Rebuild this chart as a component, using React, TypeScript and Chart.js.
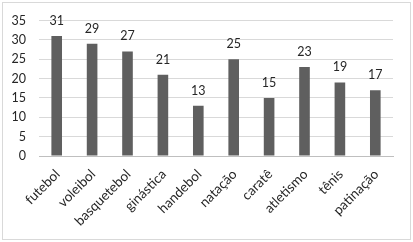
import React, { useEffect, useRef } from "react";
import { Chart, registerables } from "chart.js";

Chart.register(...registerables);

const categories = ["futebol", "voleibol", "basquetebol", "ginástica", "handebol", "natação", "caratê", "atletismo", "tênis", "patinação"];
const values = [31, 29, 27, 21, 13, 25, 15, 23, 19, 17];
const yTicks = [0, 5, 10, 15, 20, 25, 30, 35];

const FONT = "Lato, 'Open Sans', sans-serif";

const borderPlugin = {
  id: "outerBorder",
  beforeDraw(chart: any) {
    const ctx = chart.ctx;
    ctx.save();
    ctx.fillStyle = "#ffffff";
    ctx.fillRect(0, 0, chart.width, chart.height);
    ctx.strokeStyle = "#d9d9d9";
    ctx.lineWidth = 1;
    ctx.strokeRect(2.5, 2.5, chart.width - 5, chart.height - 5);
    ctx.restore();
  },
};

const labelPlugin = {
  id: "valueLabels",
  afterDatasetsDraw(chart: any) {
    const ctx = chart.ctx;
    const meta = chart.getDatasetMeta(0);
    ctx.save();
    ctx.fillStyle = "#262626";
    ctx.font = `12.5px ${FONT}`;
    ctx.textAlign = "center";
    ctx.textBaseline = "alphabetic";
    meta.data.forEach((bar: any, i: number) => {
      ctx.fillText(String(values[i]), bar.x, bar.y - 11);
    });
    ctx.restore();
  },
};

const categoryLabelPlugin = {
  id: "categoryLabels",
  afterDraw(chart: any) {
    const ctx = chart.ctx;
    const xs = chart.scales.x;
    ctx.save();
    ctx.fillStyle = "#262626";
    ctx.font = `13.5px ${FONT}`;
    ctx.textAlign = "right";
    ctx.textBaseline = "middle";
    categories.forEach((label, i) => {
      const x = xs.getPixelForTick(i);
      ctx.save();
      ctx.translate(x + 1, xs.top + 16);
      ctx.rotate(-Math.PI / 4);
      ctx.fillText(label, 0, 0);
      ctx.restore();
    });
    ctx.restore();
  },
};

export default function App() {
  const ref = useRef<HTMLCanvasElement>(null);
  useEffect(() => {
    document.body.style.margin = "0";
    const chart = new Chart(ref.current!, {
      type: "bar",
      data: {
        labels: categories,
        datasets: [
          {
            data: values,
            backgroundColor: "#5f5f5f",
            categoryPercentage: 1,
            barPercentage: 0.3,
          },
        ],
      },
      options: {
        animation: false,
        responsive: false,
        layout: { padding: { top: 20, right: 20, bottom: 0, left: 0 } },
        plugins: { legend: { display: false }, tooltip: { enabled: false } },
        scales: {
          x: {
            grid: { display: false, drawTicks: false },
            border: { color: "#bfbfbf" },
            ticks: { display: false },
            afterFit(scale: any) {
              scale.height = 86;
              scale.paddingLeft = 0;
              scale.paddingRight = 0;
            },
          },
          y: {
            min: 0,
            max: 35,
            afterBuildTicks(scale: any) {
              scale.ticks = yTicks.map((v) => ({ value: v }));
            },
            grid: { color: "#d9d9d9", drawTicks: false },
            border: { display: false },
            ticks: {
              color: "#262626",
              font: { family: FONT, size: 12.5 },
              padding: 13,
            },
            afterFit(scale: any) {
              scale.width = 39;
            },
          },
        },
      },
      plugins: [borderPlugin, labelPlugin, categoryLabelPlugin],
    });
    return () => chart.destroy();
  }, []);
  return <canvas ref={ref} width={413} height={242} style={{ display: "block" }} />;
}
